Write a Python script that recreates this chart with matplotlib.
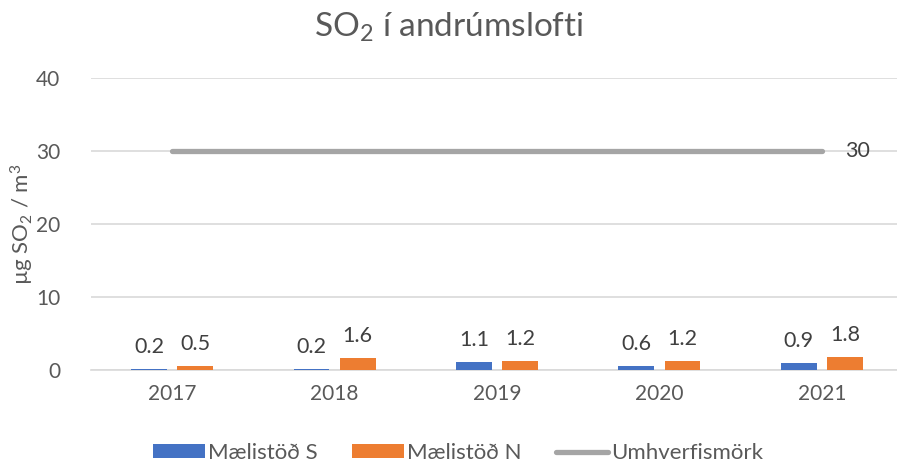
import matplotlib
matplotlib.use("Agg")
import matplotlib.pyplot as plt
import numpy as np

plt.rcParams['font.family'] = ['Lato', 'DejaVu Sans']
plt.rcParams['mathtext.fontset'] = 'custom'
plt.rcParams['mathtext.rm'] = 'Lato'
plt.rcParams['mathtext.it'] = 'Lato'
plt.rcParams['mathtext.default'] = 'regular'

years = ['2017', '2018', '2019', '2020', '2021']
station_s = [0.2, 0.2, 1.1, 0.6, 0.9]
station_n = [0.5, 1.6, 1.2, 1.2, 1.8]
limit = [30, 30, 30, 30, 30]
yticks = [0, 10, 20, 30, 40]

blue = '#4472C4'
orange = '#ED7D31'
grey = '#A5A5A5'
txt = '#595959'

fig = plt.figure(figsize=(8.97, 4.68), dpi=100)
ax = fig.add_axes([91/897, 98/468, 812/897, 292/468])

x = np.arange(len(years))
w = 0.22
off = 0.142
b1 = ax.bar(x - off, station_s, w, color=blue, zorder=3, label='Mælistöð S')
b2 = ax.bar(x + off, station_n, w, color=orange, zorder=3, label='Mælistöð N')
ln, = ax.plot(x, limit, color=grey, lw=3.8, solid_capstyle='round', zorder=4, label='Umhverfismörk')

for bars, vals in ((b1, station_s), (b2, station_n)):
    for r, v in zip(bars, vals):
        ax.annotate(f'{v}', (r.get_x() + r.get_width()/2, v), xytext=(0, 12),
                    textcoords='offset pixels', ha='center', va='bottom',
                    fontsize=15.5, color='#404040')
ax.annotate(f'{limit[-1]}', (x[-1], limit[-1]), xytext=(36, 0), textcoords='offset pixels',
            ha='center', va='center', fontsize=15.5, color='#404040')

ax.set_xlim(-0.5, len(years) - 0.5)
ax.set_ylim(0, 40)
ax.set_yticks(yticks)
ax.set_xticks(x)
ax.set_xticklabels(years)
ax.tick_params(axis='both', length=0, labelsize=15, colors=txt)
ax.tick_params(axis='y', pad=22)
ax.tick_params(axis='x', pad=10)
ax.grid(axis='y', color='#D9D9D9', lw=1.2, zorder=0)
for s in ['top', 'right', 'left']:
    ax.spines[s].set_visible(False)
ax.spines['bottom'].set_color('#D9D9D9')
ax.spines['bottom'].set_linewidth(1.2)

ax.set_ylabel('µg SO$_2$ / m$^3$', fontsize=16, color=txt)
fig.text(22/897, 98/468 + 146/468, 'µg SO$_2$ / m$^3$', rotation=90, ha='center', va='center',
         fontsize=16, color=txt)
ax.yaxis.label.set_visible(False)
fig.text(0.5, 1 - 27/468, 'SO$_2$ í andrúmslofti', ha='center', va='center', fontsize=24, color=txt)

leg = fig.legend(handles=[b1, b2, ln], loc='center', bbox_to_anchor=(458/897, 1 - 453/468),
                 ncol=3, frameon=False, fontsize=16, handlelength=2.34, handleheight=0.59,
                 handletextpad=0.14, columnspacing=1.53, labelcolor=txt)

fig.savefig('out.png', dpi=100)
